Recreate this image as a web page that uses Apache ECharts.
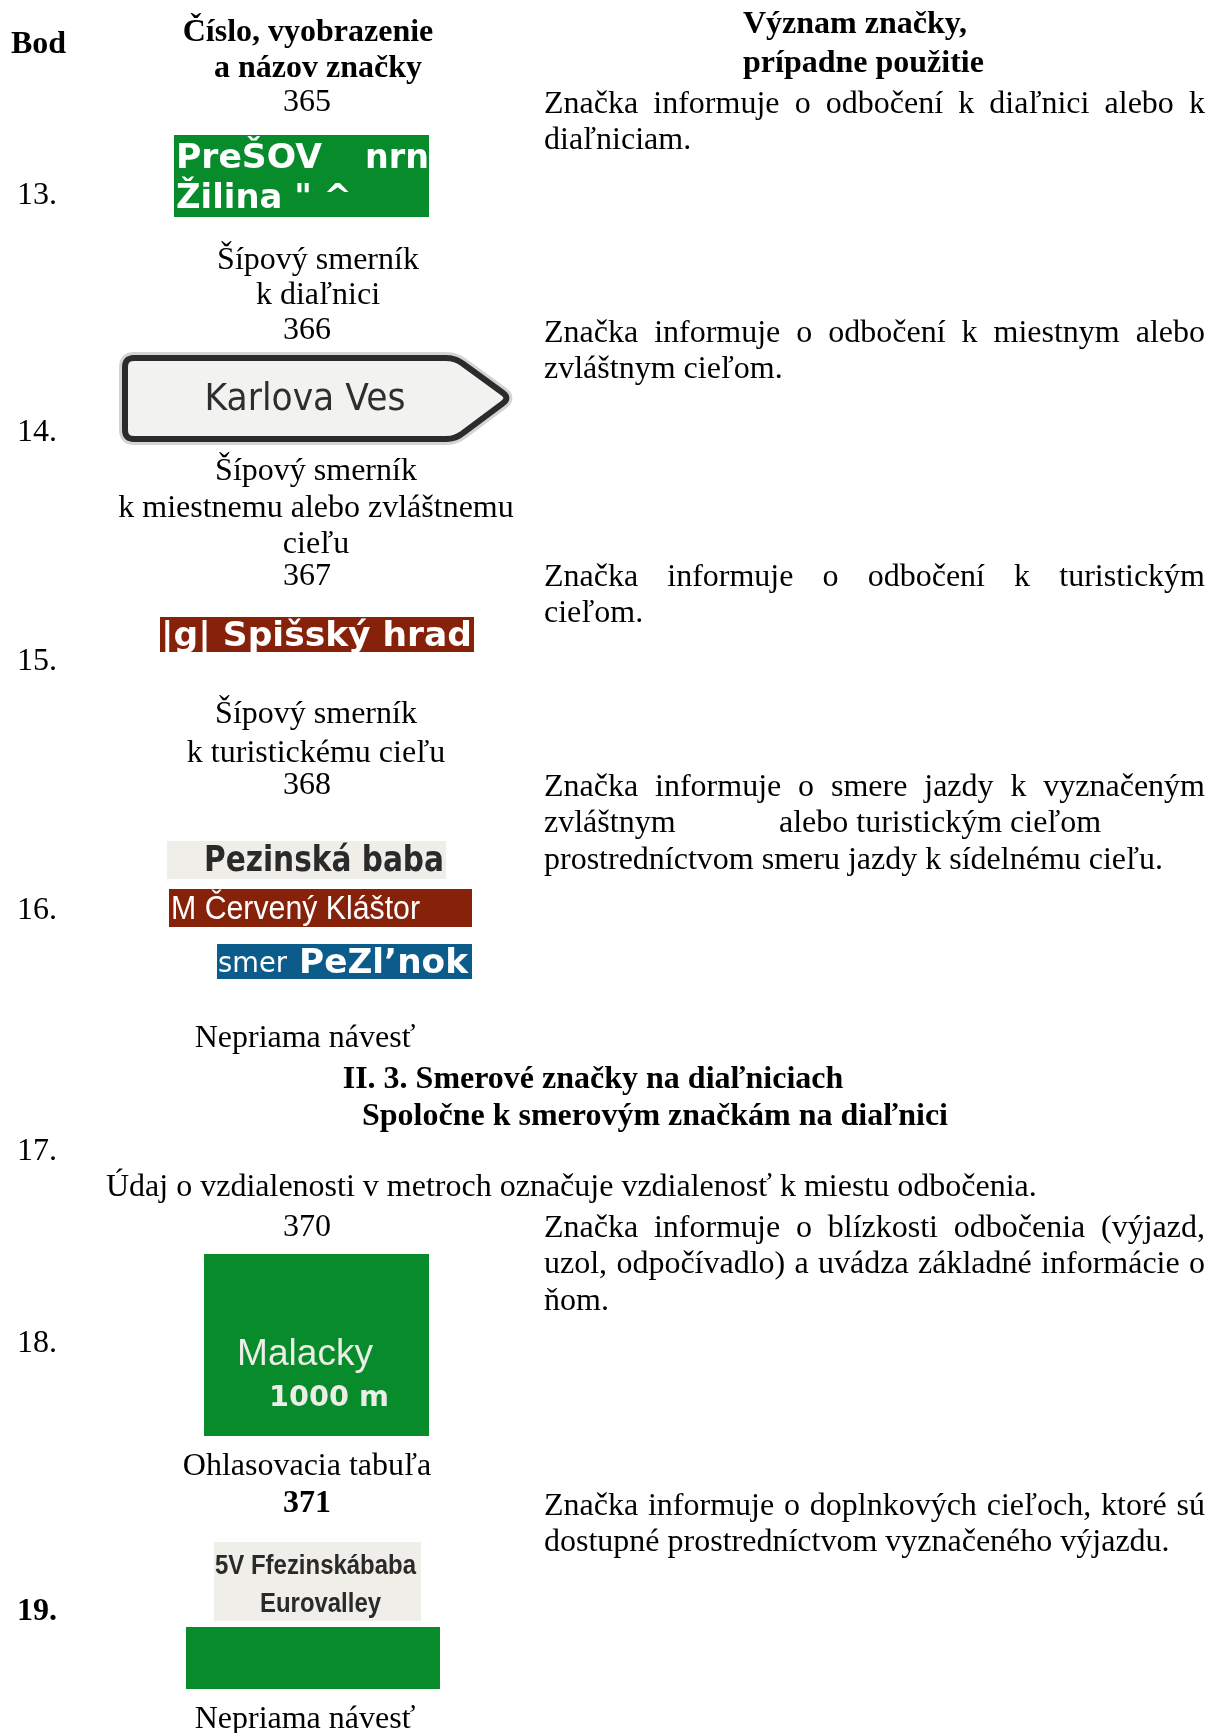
<!DOCTYPE html>
<html><head><meta charset="utf-8">
<script src="https://cdn.jsdelivr.net/npm/echarts@6/dist/echarts.min.js"></script>
<style>html,body{margin:0;padding:0;background:#fff}#main{width:1216px;height:1733px}</style>
</head><body><div id="main"></div>
<script>
// ---------- content ----------
const headerLabels = ['Bod', 'Číslo, vyobrazenie', 'a názov značky', 'Význam značky,', 'prípadne použitie'];
const pointLabels = ['13.', '14.', '15.', '16.', '17.', '18.', '19.'];
const signNumbers = ['365', '366', '367', '368', '370', '371'];
const signCaptions = [
  ['Šípový smerník', 'k diaľnici'],
  ['Šípový smerník', 'k miestnemu alebo zvláštnemu', 'cieľu'],
  ['Šípový smerník', 'k turistickému cieľu'],
  ['Nepriama návesť'],
  ['Ohlasovacia tabuľa'],
  ['Nepriama návesť']
];
const signTexts365 = ['PreŠOV', 'nrn', 'Žilina " ^'];
const signText366 = 'Karlova Ves';
const signText367 = '|g| Spišský hrad';
const signTexts368 = ['Pezinská baba', 'M Červený Kláštor', 'smer', 'PeZl’nok'];
const signTexts370 = ['Malacky', '1000 m'];
const signTexts371 = ['5V Ffezinskábaba', 'Eurovalley'];
const sectionTitles = ['II. 3. Smerové značky na diaľniciach', 'Spoločne k smerovým značkám na diaľnici'];
const sectionNote = 'Údaj o vzdialenosti v metroch označuje vzdialenosť k miestu odbočenia.';
const descriptions = [
  ['Značka informuje o odbočení k diaľnici alebo k', 'diaľniciam.'],
  ['Značka informuje o odbočení k miestnym alebo', 'zvláštnym cieľom.'],
  ['Značka informuje o odbočení k turistickým', 'cieľom.'],
  ['Značka informuje o smere jazdy k vyznačeným', 'zvláštnym', 'alebo turistickým cieľom', 'prostredníctvom smeru jazdy k sídelnému cieľu.'],
  ['Značka informuje o blízkosti odbočenia (výjazd,', 'uzol, odpočívadlo) a uvádza základné informácie o', 'ňom.'],
  ['Značka informuje o doplnkových cieľoch, ktoré sú', 'dostupné prostredníctvom vyznačeného výjazdu.']
];

// ---------- helpers ----------
const SERIF = '"Liberation Serif", "Times New Roman", serif';
const SANS = '"DejaVu Sans", sans-serif';
const ARIAL = '"Liberation Sans", Arial, sans-serif';
const NARROW = '"Liberation Sans Narrow", "Liberation Sans", sans-serif';
const DY = 3;
const ctx = document.createElement('canvas').getContext('2d');
function fontStr(size, fam, bold) { return (bold ? 'bold ' : '') + size + 'px ' + fam; }
function mw(text, font) { ctx.font = font; return ctx.measureText(text).width; }
function T(text, x, y, o) {
  o = o || {};
  const font = fontStr(o.size || 32, o.fam || SERIF, o.bold);
  const sx = o.w ? o.w / mw(text, font) : 1;
  const al = o.align || 'left';
  return { type: 'text', x: x, y: y + DY, scaleX: sx, z: 10, silent: true,
    style: { text: text, font: font, fill: o.color || '#000', textAlign: al, textVerticalAlign: 'middle' } };
}
function J(text, x0, x1, y, o) {
  o = o || {};
  const font = fontStr(o.size || 32, o.fam || SERIF, o.bold);
  const words = text.split(' ');
  const ws = words.map(w => mw(w, font));
  const sum = ws.reduce((a, b) => a + b, 0);
  const gap = (x1 - x0 - sum) / (words.length - 1);
  let x = x0;
  return words.map((w, i) => { const e = T(w, x, y, o); x += ws[i] + gap; return e; });
}
function R(x, y, w, h, fill) {
  return { type: 'rect', shape: { x: x, y: y, width: w, height: h }, style: { fill: fill }, z: 5, silent: true };
}
// round the corners of a closed polygon outline
function roundPoly(pts, r) {
  const out = [], n = pts.length;
  for (let i = 0; i < n; i++) {
    const p = pts[i], a = pts[(i - 1 + n) % n], b = pts[(i + 1) % n];
    const da = Math.hypot(a[0] - p[0], a[1] - p[1]), db = Math.hypot(b[0] - p[0], b[1] - p[1]);
    const s = [p[0] + (a[0] - p[0]) * r / da, p[1] + (a[1] - p[1]) * r / da];
    const e = [p[0] + (b[0] - p[0]) * r / db, p[1] + (b[1] - p[1]) * r / db];
    for (let k = 0; k <= 6; k++) {
      const t = k / 6, u = 1 - t;
      out.push([u * u * s[0] + 2 * u * t * p[0] + t * t * e[0], u * u * s[1] + 2 * u * t * p[1] + t * t * e[1]]);
    }
  }
  return out;
}

const G = [];
// header
G.push(T(headerLabels[0], 11, 42, { bold: true }));
G.push(T(headerLabels[1], 308, 30, { bold: true, align: 'center' }));
G.push(T(headerLabels[2], 318, 66, { bold: true, align: 'center' }));
G.push(T(headerLabels[3], 743, 22, { bold: true }));
G.push(T(headerLabels[4], 743, 61, { bold: true }));

// point labels
const pointY = [193, 430, 659, 908, 1149, 1341, 1609];
pointLabels.forEach((p, i) => G.push(T(p, 17, pointY[i], { bold: i === 6 })));

// sign numbers
const numY = [100, 328, 574, 783, 1225, 1501];
signNumbers.forEach((n, i) => G.push(T(n, 307, numY[i], { align: 'center', bold: i === 5 })));

// captions
const capPos = [[318, [258, 293]], [316, [469, 506, 542]], [316, [712, 751]], [305, [1036]], [307, [1464]], [305, [1717]]];
signCaptions.forEach((c, i) => c.forEach((line, j) => G.push(T(line, capPos[i][0], capPos[i][1][j], { align: 'center' }))));

// sign 365
G.push(R(174, 135, 255, 82, '#078b2b'));
G.push(T(signTexts365[0], 176, 156, { fam: SANS, bold: true, size: 34, color: '#fff', w: 146 }));
G.push(T(signTexts365[1], 365, 156, { fam: SANS, bold: true, size: 34, color: '#fff', w: 64 }));
G.push(T(signTexts365[2], 176, 196, { fam: SANS, bold: true, size: 34, color: '#fff', w: 176 }));

// sign 366 arrow
const arrowPts = roundPoly([[125, 358], [455, 358], [510, 398], [455, 439], [125, 439]], 9);
G.push({ type: 'polygon', shape: { points: arrowPts }, style: { fill: 'none', stroke: '#d4d4d4', lineWidth: 12, lineJoin: 'round' }, z: 4, silent: true });
G.push({ type: 'polygon', shape: { points: arrowPts }, style: { fill: '#f2f2f0', stroke: '#2b2b2b', lineWidth: 6, lineJoin: 'round' }, z: 5, silent: true });
G.push(T(signText366, 305, 397, { fam: SANS, size: 37, color: '#2e2e2e', align: 'center', w: 201 }));

// sign 367
G.push(R(160, 617, 314, 35, '#86210a'));
G.push(T(signText367, 161, 634, { fam: SANS, bold: true, size: 34, color: '#fff', w: 311 }));

// sign 368
G.push(R(167, 841, 279, 38, '#efeee9'));
G.push(T(signTexts368[0], 204, 859, { fam: SANS, bold: true, size: 36, color: '#2a2a2a', w: 240 }));
G.push(R(169, 889, 303, 38, '#86210a'));
G.push(T(signTexts368[1], 171, 907, { fam: ARIAL, size: 34, color: '#fff', w: 249 }));
G.push(R(217, 944, 255, 35, '#0b5b8b'));
G.push(T(signTexts368[2], 218, 962, { fam: SANS, size: 28, color: '#fff', w: 69 }));
G.push(T(signTexts368[3], 299, 961, { fam: SANS, bold: true, size: 33, color: '#fff', w: 169 }));

// section
G.push(T(sectionTitles[0], 593, 1077, { bold: true, align: 'center' }));
G.push(T(sectionTitles[1], 655, 1114, { bold: true, align: 'center' }));
G.push(T(sectionNote, 106, 1185, {}));

// sign 370
G.push(R(204, 1254, 225, 182, '#078b2b'));
G.push(T(signTexts370[0], 237, 1352, { fam: ARIAL, size: 36, color: '#eaeee6', w: 136 }));
G.push(T(signTexts370[1], 269, 1395, { fam: SANS, bold: true, size: 29, color: '#eaeee6', w: 120 }));

// sign 371
G.push(R(214, 1542, 207, 79, '#efeee9'));
G.push(T(signTexts371[0], 215, 1564, { fam: NARROW, bold: true, size: 27, color: '#2a2a2a', w: 201 }));
G.push(T(signTexts371[1], 260, 1602, { fam: NARROW, bold: true, size: 27, color: '#2a2a2a', w: 121 }));
G.push(R(186, 1627, 254, 62, '#078b2b'));

// descriptions
const L = 544, RR = 1205;
const d = descriptions;
G.push(...J(d[0][0], L, RR, 102)); G.push(T(d[0][1], L, 138));
G.push(...J(d[1][0], L, RR, 331)); G.push(T(d[1][1], L, 367));
G.push(...J(d[2][0], L, RR, 575)); G.push(T(d[2][1], L, 611));
G.push(...J(d[3][0], L, RR, 785)); G.push(T(d[3][1], L, 821)); G.push(T(d[3][2], 779, 821)); G.push(T(d[3][3], L, 858));
G.push(...J(d[4][0], L, RR, 1226)); G.push(...J(d[4][1], L, RR, 1262)); G.push(T(d[4][2], L, 1299));
G.push(...J(d[5][0], L, RR, 1504)); G.push(T(d[5][1], L, 1540));

const chart = echarts.init(document.getElementById('main'), null, { renderer: 'canvas' });
chart.setOption({ backgroundColor: '#fff', animation: false, graphic: { elements: G } });
</script></body></html>
